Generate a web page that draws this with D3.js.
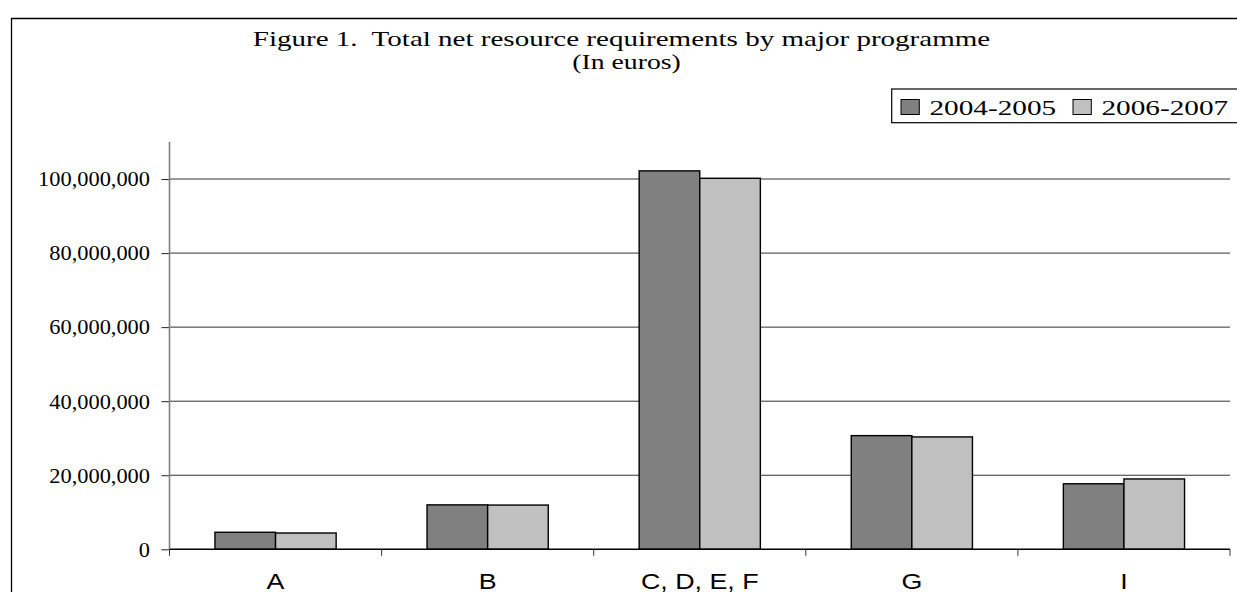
<!DOCTYPE html>
<html>
<head>
<meta charset="utf-8">
<script src="https://cdn.jsdelivr.net/npm/d3@7"></script>
<style>
  html, body { margin: 0; padding: 0; background: #fff; }
  svg { display: block; }
  text { white-space: pre; }
</style>
</head>
<body>
<svg id="chart" width="1237" height="592"></svg>
<script>
// ---- data ----
const categories = ["A", "B", "C, D, E, F", "G", "I"];
const seriesNames = ["2004-2005", "2006-2007"];
const values2004_2005 = [4600000, 12000000, 102200000, 30700000, 17700000];
const values2006_2007 = [4400000, 11950000, 100200000, 30350000, 19000000];
const yTicks = [0, 20000000, 40000000, 60000000, 80000000, 100000000];
const titleLines = ["Figure 1.  Total net resource requirements by major programme", "(In euros)"];

const seriesValues = [values2004_2005, values2006_2007];
const colors = ["#808080", "#C0C0C0"];

const svg = d3.select("#chart");
const serif = "'Liberation Serif', 'Times New Roman', serif";
const sans = "'Liberation Sans', Arial, sans-serif";

// outer frame (left + top edges visible)
svg.append("path")
  .attr("d", "M11.5,600 L11.5,18.5 L1245,18.5")
  .attr("fill", "none").attr("stroke", "#000").attr("stroke-width", 1.3);

// scales
const x = d3.scaleBand().domain(categories).range([169.5, 1230]).padding(0);
const bw = x.bandwidth() / 3.5;           // bar width (gap width 150%)
const y = d3.scaleLinear().domain([0, 110000000]).range([549.3, 142]);

// gridlines
svg.append("g").selectAll("line").data(yTicks.filter(d => d > 0)).join("line")
  .attr("x1", 169.5).attr("x2", 1230)
  .attr("y1", d => y(d)).attr("y2", d => y(d))
  .attr("stroke", "#333").attr("stroke-width", 1);

// y axis
const yAxis = svg.append("g").attr("transform", "translate(169.5,0)")
  .call(d3.axisLeft(y).tickValues(yTicks).tickSize(8).tickFormat(d3.format(",")));
yAxis.select(".domain").remove();
yAxis.selectAll(".tick line").attr("stroke", "#222").attr("stroke-width", 1);
yAxis.selectAll(".tick text").remove();
yAxis.selectAll(".tick").append("text")
  .attr("transform", "translate(-19.5,0) scale(1.12,1)")
  .attr("text-anchor", "end").attr("dy", "0.34em")
  .attr("font-family", serif).attr("font-size", 20).attr("fill", "#000")
  .text(d => d3.format(",")(d));
svg.append("line")
  .attr("x1", 169.5).attr("x2", 169.5).attr("y1", y(110000000)).attr("y2", y(0) + 0.5)
  .attr("stroke", "#808080").attr("stroke-width", 1.6);

// bars
const groups = svg.append("g").selectAll("g").data(categories).join("g");
groups.selectAll("rect")
  .data((c, i) => seriesValues.map((vals, s) => ({ s, v: vals[i], c })))
  .join("rect")
  .attr("x", d => x(d.c) + 0.75 * bw + d.s * bw)
  .attr("width", bw)
  .attr("y", d => y(d.v))
  .attr("height", d => y(0) - y(d.v))
  .attr("fill", d => colors[d.s])
  .attr("stroke", "#000").attr("stroke-width", 1.4);

// x axis
const xAxis = svg.append("g").attr("transform", `translate(0,${y(0)})`);
xAxis.append("line").attr("x1", 169.5).attr("x2", 1230).attr("y1", 0).attr("y2", 0)
  .attr("stroke", "#000").attr("stroke-width", 1.4);
const bounds = categories.map(c => x(c)).concat([x.range()[1]]);
xAxis.selectAll("line.tk").data(bounds).join("line").attr("class", "tk")
  .attr("x1", d => d).attr("x2", d => d).attr("y1", 0).attr("y2", 6.5)
  .attr("stroke", "#333").attr("stroke-width", 1);
xAxis.selectAll("text").data(categories).join("text")
  .attr("transform", d => `translate(${x(d) + x.bandwidth() / 2},${589 - y(0)}) scale(1.22,1)`)
  .attr("text-anchor", "middle")
  .attr("font-family", sans).attr("font-size", 22).attr("fill", "#000")
  .text(d => d);

// title
svg.append("text")
  .attr("transform", "translate(621.5,45.5) scale(1.32,1)")
  .attr("text-anchor", "middle").attr("font-family", serif).attr("font-size", 22)
  .text(titleLines[0]);
svg.append("text")
  .attr("transform", "translate(626.5,69) scale(1.32,1)")
  .attr("text-anchor", "middle").attr("font-family", serif).attr("font-size", 21)
  .text(titleLines[1]);

// legend
const legend = svg.append("g");
legend.append("rect").attr("x", 891.7).attr("y", 89).attr("width", 400).attr("height", 33.7)
  .attr("fill", "#fff").attr("stroke", "#000").attr("stroke-width", 1.2);
const legendX = [901, 1073];
const items = legend.selectAll("g").data(seriesNames).join("g")
  .attr("transform", (d, i) => `translate(${legendX[i]},0)`);
items.append("rect").attr("x", 0).attr("y", 99.5).attr("width", 18.3).attr("height", 15)
  .attr("fill", (d, i) => colors[i]).attr("stroke", "#000").attr("stroke-width", 1);
items.append("text")
  .attr("transform", "translate(28.5,115) scale(1.33,1)")
  .attr("font-family", serif).attr("font-size", 22).attr("fill", "#000")
  .text(d => d);
</script>
</body>
</html>
